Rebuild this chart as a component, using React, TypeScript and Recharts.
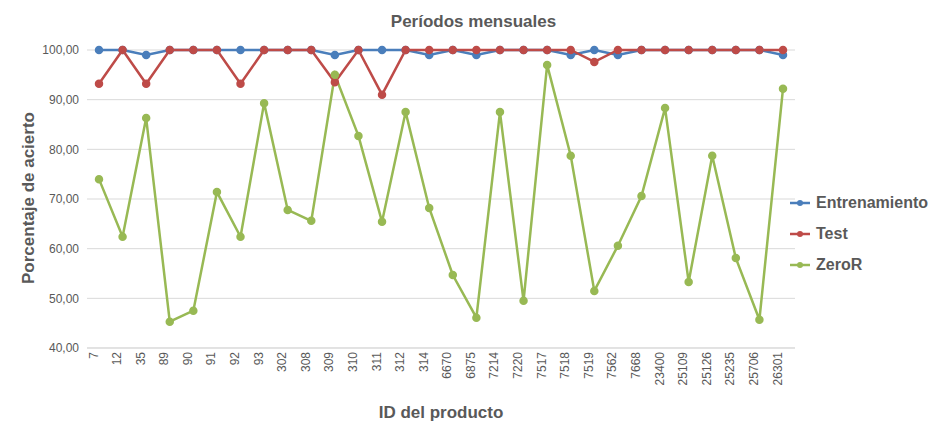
import React from 'react';
import { LineChart, Line, XAxis, YAxis, CartesianGrid } from 'recharts';

const productIds = ['7', '12', '35', '89', '90', '91', '92', '93', '302', '308', '309', '310', '311', '312', '314', '6670', '6875', '7214', '7220', '7517', '7518', '7519', '7562', '7668', '23400', '25109', '25126', '25235', '25706', '26301'];
const entrenamiento = [100, 100, 99, 100, 100, 100, 100, 100, 100, 100, 99, 100, 100, 100, 99, 100, 99, 100, 100, 100, 99, 100, 99, 100, 100, 100, 100, 100, 100, 99];
const test = [93.2, 100, 93.2, 100, 100, 100, 93.2, 100, 100, 100, 93.5, 100, 91, 100, 100, 100, 100, 100, 100, 100, 100, 97.6, 100, 100, 100, 100, 100, 100, 100, 100];
const zeroR = [74.0, 62.4, 86.3, 45.3, 47.5, 71.4, 62.4, 89.3, 67.8, 65.6, 95.0, 82.7, 65.4, 87.5, 68.2, 54.7, 46.1, 87.5, 49.5, 97.0, 78.7, 51.5, 60.6, 70.6, 88.3, 53.3, 78.7, 58.1, 45.7, 92.2];
const yTicks = [40, 50, 60, 70, 80, 90, 100];

const data = productIds.map((id, i) => ({ id, entrenamiento: entrenamiento[i], test: test[i], zeroR: zeroR[i] }));

const series = [
  { key: 'entrenamiento', name: 'Entrenamiento', color: '#4a7ebb' },
  { key: 'test', name: 'Test', color: '#be4b48' },
  { key: 'zeroR', name: 'ZeroR', color: '#98b954' },
];

const font = "'Liberation Sans', Arial, sans-serif";
const textColor = '#595959';

const App: React.FC = () => (
  <div style={{ position: 'absolute', left: 0, top: 0, width: 947, height: 432, background: '#fff', fontFamily: font }}>
    <div style={{ position: 'absolute', top: 12, width: 947, textAlign: 'center', fontSize: 17, fontWeight: 'bold', color: textColor }}>
      Períodos mensuales
    </div>
    <LineChart width={947} height={432} data={data} margin={{ top: 50, right: 152, left: 20, bottom: 0 }}>
      <CartesianGrid vertical={false} stroke="#d9d9d9" />
      <XAxis
        dataKey="id"
        interval={0}
        angle={-90}
        textAnchor="end"
        height={84}
        padding={{ left: 12, right: 12 }}
        tickLine={false}
        axisLine={{ stroke: '#d9d9d9' }}
        tick={{ fill: textColor, fontSize: 12, dy: -4, dx: -10 }}
        label={{ value: 'ID del producto', position: 'insideBottom', offset: 14, fill: textColor, fontSize: 17, fontWeight: 'bold' }}
      />
      <YAxis
        domain={[40, 100]}
        ticks={yTicks}
        width={67}
        tickLine={false}
        axisLine={false}
        tickFormatter={(v: number) => v.toFixed(2).replace('.', ',')}
        tick={{ fill: textColor, fontSize: 12 }}
        label={{ value: 'Porcentaje de acierto', angle: -90, position: 'insideLeft', offset: 8, dy: 85, fill: textColor, fontSize: 17, fontWeight: 'bold' }}
      />
      {series.map((s) => (
        <Line
          key={s.key}
          dataKey={s.key}
          name={s.name}
          stroke={s.color}
          strokeWidth={2.5}
          dot={{ r: 3, fill: s.color, stroke: s.color }}
          isAnimationActive={false}
        />
      ))}
    </LineChart>
    <div style={{ position: 'absolute', left: 790, top: 187 }}>
      {series.map((s) => (
        <div key={s.key} style={{ display: 'flex', alignItems: 'center', height: 31 }}>
          <svg width={20} height={10}>
            <line x1={0} y1={5} x2={20} y2={5} stroke={s.color} strokeWidth={2.5} />
            <circle cx={10} cy={5} r={3} fill={s.color} />
          </svg>
          <span style={{ marginLeft: 6, fontSize: 16, fontWeight: 'bold', color: textColor }}>{s.name}</span>
        </div>
      ))}
    </div>
  </div>
);

export default App;
